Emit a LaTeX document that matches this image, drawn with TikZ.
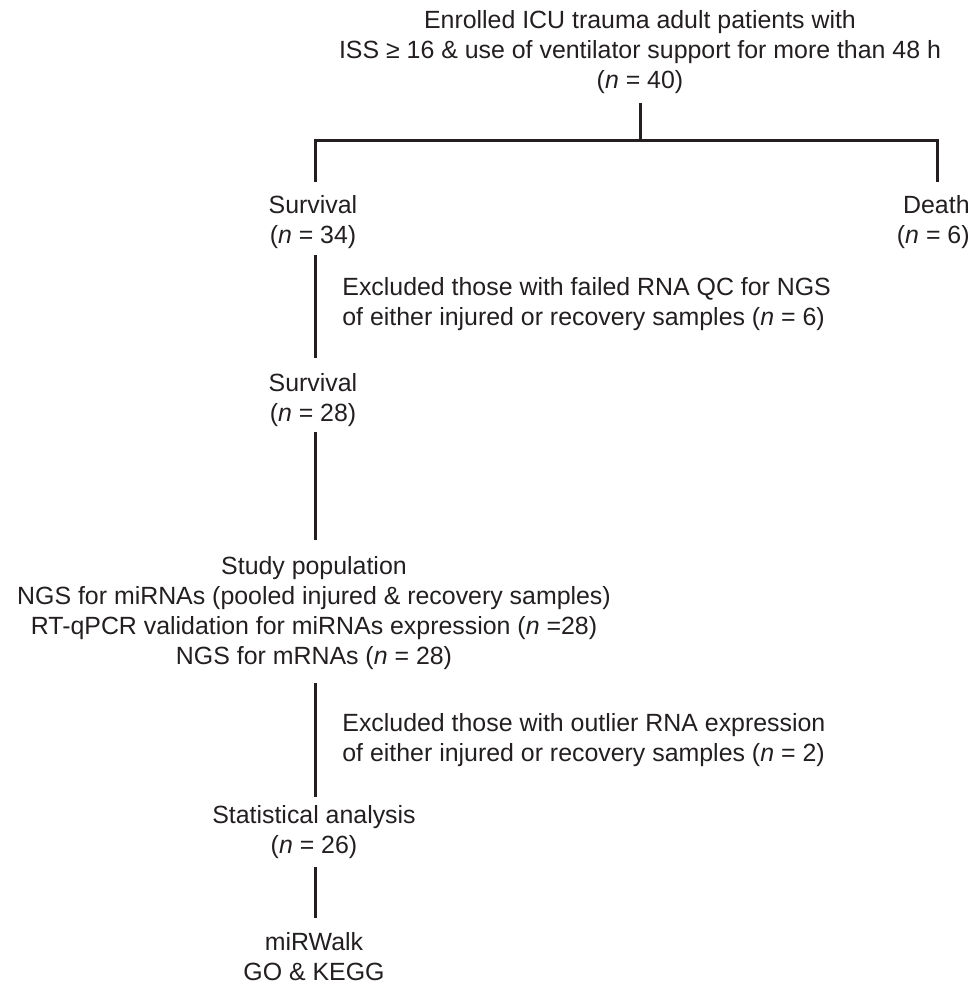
\documentclass[tikz,border=0pt]{standalone}
\usepackage{fontspec}
\setmainfont{Liberation Sans}
\definecolor{txt}{HTML}{231F20}
\begin{document}
\begin{tikzpicture}[x=0.5pt,y=-0.5pt,
  lbl/.style={inner sep=0pt,text=txt,font=\fontsize{12.45}{15}\selectfont},
  ctr/.style={lbl,align=center},
  lft/.style={lbl,align=left,anchor=west},
  rgt/.style={lbl,align=right},
  conn/.style={draw=txt,line width=1.5pt}]
\useasboundingbox (0,0) rectangle (976,986);
% nodes
\node[ctr] (top) at (640,52) {Enrolled ICU trauma adult patients with\\ISS ≥ 16 \& use of ventilator support for more than 48 h\\(\textit{n} = 40)};
\node[ctr] (surv1) at (313,222) {Survival\\(\textit{n} = 34)};
\node[rgt,anchor=east] (death) at (970,222) {Death\\(\textit{n} = 6)};
\node[lft] (exc1) at (342,304) {Excluded those with failed RNA QC for NGS\\of either injured or recovery samples (\textit{n} = 6)};
\node[ctr] (surv2) at (313,400) {Survival\\(\textit{n} = 28)};
\node[ctr] (study) at (314,613) {Study population\\NGS for miRNAs (pooled injured \& recovery samples)\\RT-qPCR validation for miRNAs expression (\textit{n} =28)\\NGS for mRNAs (\textit{n} = 28)};
\node[lft] (exc2) at (342,740) {Excluded those with outlier RNA expression\\of either injured or recovery samples (\textit{n} = 2)};
\node[ctr] (stat) at (314,832) {Statistical analysis\\(\textit{n} = 26)};
\node[ctr] (mir) at (314,957) {miRWalk\\GO \& KEGG};
% junction coordinates
\coordinate (t0) at (640,103);
\coordinate (jc) at (640,140);
\coordinate (jl) at (315,140);
\coordinate (jr) at (937,140);
\coordinate (sl) at (315,182);
\coordinate (dr) at (937,182);
\coordinate (a1) at (315,255);
\coordinate (a2) at (315,358);
\coordinate (b1) at (315,432);
\coordinate (b2) at (315,540);
\coordinate (c1) at (315,683);
\coordinate (c2) at (315,797);
\coordinate (d1) at (315,867);
\coordinate (d2) at (315,918);
% connectors
\draw[conn] (t0) -- (jc);
\draw[conn] (sl) -- (jl) -- (jr) -- (dr);
\draw[conn] (a1) -- (a2);
\draw[conn] (b1) -- (b2);
\draw[conn] (c1) -- (c2);
\draw[conn] (d1) -- (d2);
\end{tikzpicture}
\end{document}
